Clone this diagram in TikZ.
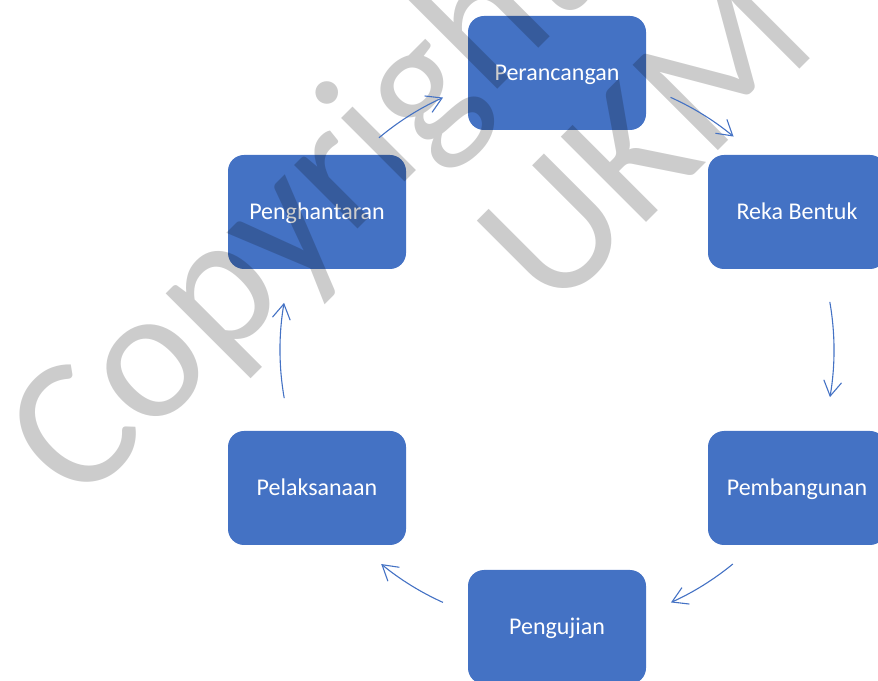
\documentclass[tikz,border=0pt]{standalone}
\usepackage{fontspec}
\setmainfont{Carlito}
\usetikzlibrary{arrows.meta}
\definecolor{boxblue}{HTML}{4472C4}
\begin{document}
\begin{tikzpicture}[x=1pt,y=1pt,
  stepbox/.style={fill=boxblue, rounded corners=16pt, minimum width=178pt, minimum height=114pt,
    inner sep=0pt, text=white, font=\fontsize{24}{28}\selectfont, text height=15.5pt, text depth=0pt},
  flow/.style={draw=boxblue, line width=1.1pt, -{Straight Barb[length=15pt,width=18pt]}},
  wmark/.style={text=black, text opacity=0.2, font=\fontsize{188}{200}\selectfont,
    rotate=45, anchor=base west, inner sep=0pt}]
\useasboundingbox (0,0) rectangle (878,680);
\clip (0,0) rectangle (878,680);
% boxes
\node[stepbox] (per) at (557,607) {Perancangan};
\node[stepbox] (reka) at (797,468) {Reka Bentuk};
\node[stepbox] (pem) at (797,192) {Pembangunan};
\node[stepbox] (uji) at (557,53) {Pengujian};
\node[stepbox] (pel) at (317,192) {Pelaksanaan};
\node[stepbox] (hant) at (317,468) {Penghantaran};
% watermark
\node[wmark] (wm1) at (79,172) {Copyright};
\node[wmark] (wm2) at (553,364) {UKM};
% cycle arrows
\coordinate (O) at (557,330);
\draw[flow] ([shift={(130:277)}]O) arc[start angle=130, end angle=114.3, radius=277];
\draw[flow] ([shift={(65.8:277)}]O) arc[start angle=65.8, end angle=50.4, radius=277];
\draw[flow] ([shift={(10:277)}]O) arc[start angle=10, end angle=-9.8, radius=277];
\draw[flow] ([shift={(-50.6:277)}]O) arc[start angle=-50.6, end angle=-65.7, radius=277];
\draw[flow] ([shift={(-114.3:277)}]O) arc[start angle=-114.3, end angle=-129.4, radius=277];
\draw[flow] ([shift={(190:277)}]O) arc[start angle=190, end angle=170.2, radius=277];
\end{tikzpicture}
\end{document}
